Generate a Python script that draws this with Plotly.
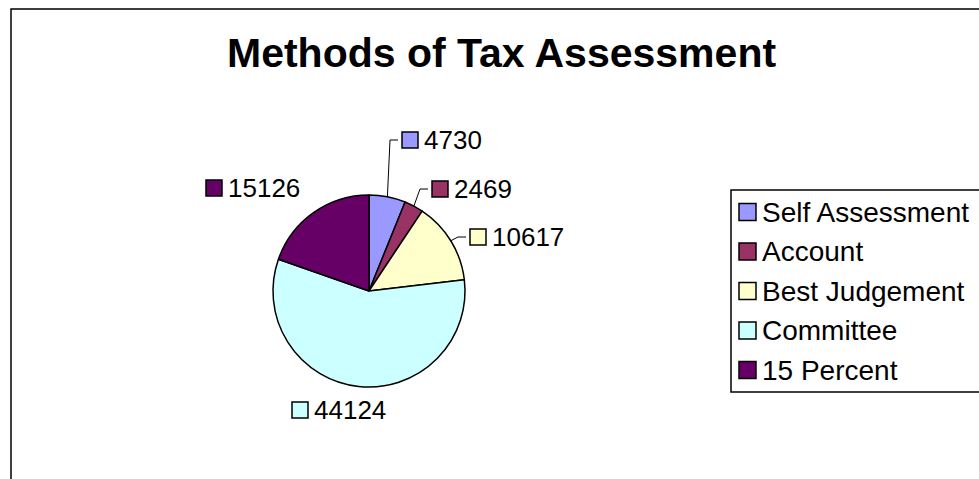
import math
import plotly.graph_objects as go

# Assessment methods and counts
categories = ["Self Assessment", "Account", "Best Judgement", "Committee", "15 Percent"]
values = [4730, 2469, 10617, 44124, 15126]
colors = ["#9999FF", "#993366", "#FFFFCC", "#CCFFFF", "#660066"]

W, H = 979, 479
FONT = "Arial, Liberation Sans, sans-serif"

# Pie geometry in pixels
cx, cy, r = 369, 291, 96

# Data label anchors (left edge of the colour key, vertical centre), in pixels
label_anchor = [(402, 140), (432, 189), (470, 237), (292, 410), (206, 188)]
has_leader = [True, True, True, False, False]

# Legend placement in pixels
leg_left, leg_top, leg_bottom = 731, 190, 392
leg_row0, leg_step = 212, 39.5


def px(x):
    return x / W


def py(y):
    return 1 - y / H


fig = go.Figure()
fig.add_trace(go.Pie(
    labels=categories,
    values=values,
    marker=dict(colors=colors, line=dict(color="black", width=1.5)),
    sort=False,
    direction="clockwise",
    rotation=0,
    textinfo="none",
    showlegend=False,
    domain=dict(x=[px(cx - r), px(cx + r)], y=[py(cy + r), py(cy - r)]),
))

shapes = []
annotations = []

# Outer chart frame
shapes.append(dict(type="rect", xref="paper", yref="paper",
                   x0=px(11), y0=py(9), x1=px(W + 20), y1=py(H + 20),
                   line=dict(color="black", width=1.5), fillcolor="rgba(0,0,0,0)"))

# Title
annotations.append(dict(text="<b>Methods of Tax Assessment</b>", xref="paper", yref="paper",
                        x=px(501), y=py(53), xanchor="center", yanchor="middle",
                        showarrow=False, font=dict(family=FONT, size=41, color="black")))

# Data labels with colour keys and leader lines
total = sum(values)
cum = 0
for val, col, (lx, ly), lead in zip(values, colors, label_anchor, has_leader):
    mid = (cum + val / 2) / total * 2 * math.pi
    cum += val
    shapes.append(dict(type="rect", xref="paper", yref="paper",
                       x0=px(lx), y0=py(ly - 8), x1=px(lx + 16), y1=py(ly + 8),
                       line=dict(color="black", width=1.5), fillcolor=col))
    annotations.append(dict(text=f"{val}", xref="paper", yref="paper",
                            x=px(lx + 20), y=py(ly), xanchor="left", yanchor="middle",
                            showarrow=False, font=dict(family=FONT, size=26, color="black")))
    if lead:
        ex = cx + r * math.sin(mid)
        ey = cy - r * math.cos(mid)
        path = (f"M {px(ex)} {py(ey)} L {px(lx - 12)} {py(ly)} L {px(lx - 4)} {py(ly)}")
        shapes.append(dict(type="path", xref="paper", yref="paper", path=path,
                           line=dict(color="black", width=1)))

# Legend frame and entries
shapes.append(dict(type="rect", xref="paper", yref="paper",
                   x0=px(leg_left), y0=py(leg_top), x1=px(W + 20), y1=py(leg_bottom),
                   line=dict(color="black", width=1.5), fillcolor="rgba(0,0,0,0)"))
for i, (name, col) in enumerate(zip(categories, colors)):
    ry = leg_row0 + i * leg_step
    shapes.append(dict(type="rect", xref="paper", yref="paper",
                       x0=px(leg_left + 8), y0=py(ry - 8.5), x1=px(leg_left + 25), y1=py(ry + 8.5),
                       line=dict(color="black", width=1.5), fillcolor=col))
    annotations.append(dict(text=name, xref="paper", yref="paper",
                            x=px(leg_left + 29), y=py(ry), xanchor="left", yanchor="middle",
                            showarrow=False, font=dict(family=FONT, size=28, color="black")))

fig.update_layout(
    width=W, height=H,
    margin=dict(l=0, r=0, t=0, b=0),
    paper_bgcolor="white",
    plot_bgcolor="white",
    shapes=shapes,
    annotations=annotations,
)

fig.write_html("out.html")
